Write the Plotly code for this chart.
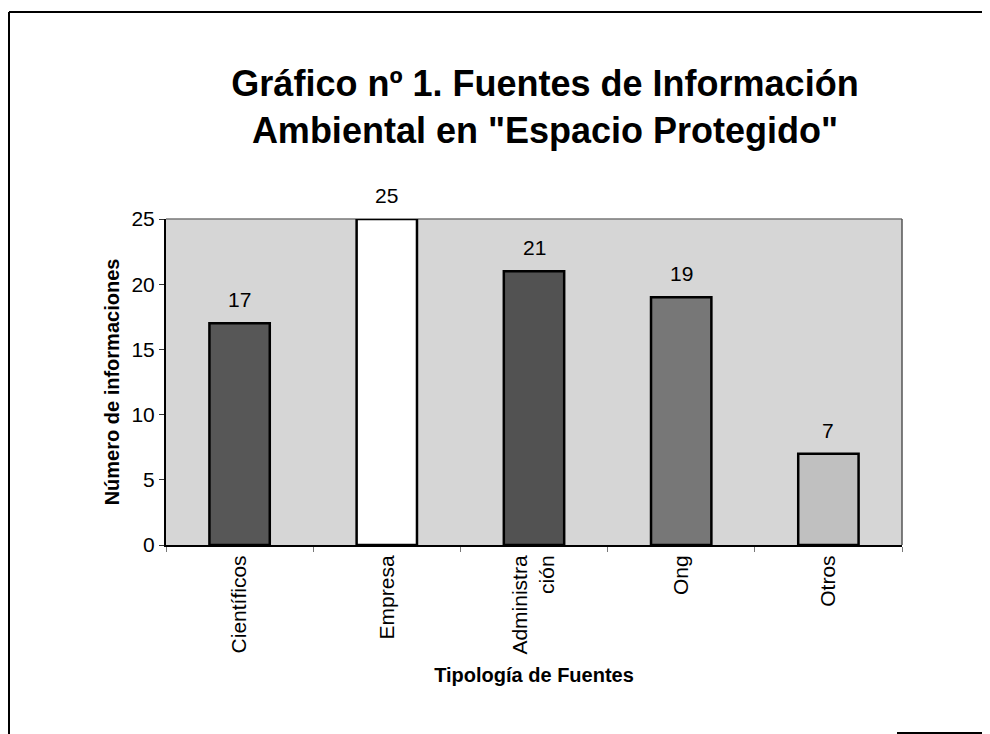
import plotly.graph_objects as go

categories = ["Científicos", "Empresa", "Administra<br>ción", "Ong", "Otros"]
values = [17, 25, 21, 19, 7]
bar_colors = ["#575757", "#ffffff", "#525252", "#777777", "#c0c0c0"]
y_ticks = [0, 5, 10, 15, 20, 25]

FONT = "Liberation Sans, Arial, sans-serif"

fig = go.Figure()
fig.add_trace(go.Bar(
    x=categories, y=values,
    marker=dict(color=bar_colors, line=dict(color="black", width=2.5)),
    width=0.41,
    showlegend=False,
    hoverinfo="y",
))

for c, v in zip(categories, values):
    fig.add_annotation(x=c, y=v, text=str(v), showarrow=False,
                       yanchor="bottom", yshift=10,
                       font=dict(family=FONT, size=21, color="black"))

W, H = 990, 734
L, R, T, B = 158, 96, 211, 197
pw, ph = W - L - R, H - T - B


def px(x):
    return (x - L) / pw


def py(y):
    return (H - B - y) / ph


fig.update_layout(
    width=W, height=H,
    margin=dict(l=L, r=R, t=T, b=B),
    paper_bgcolor="white",
    plot_bgcolor="#d6d6d6",
    font=dict(family=FONT, color="black"),
    title=dict(
        text="<b>Gráfico nº 1. Fuentes de Información<br>Ambiental en \"Espacio Protegido\"</b>",
        x=537 / W, xanchor="center",
        y=1 - 88 / H, yanchor="middle",
        font=dict(family=FONT, size=36, color="black"),
    ),
)

fig.update_xaxes(
    type="category",
    tickangle=-90,
    tickfont=dict(family=FONT, size=21, color="black"),
    ticks="outside", tickson="boundaries", ticklen=5, tickcolor="#777",
    showline=True, linecolor="black", linewidth=2,
    showgrid=False,
    title=dict(text="<b>Tipología de Fuentes</b>", font=dict(family=FONT, size=20), standoff=14),
)
fig.update_yaxes(
    range=[0, 25],
    tickvals=y_ticks,
    tickfont=dict(family=FONT, size=21, color="black"),
    ticks="outside", ticklen=5, tickcolor="#333",
    showline=True, linecolor="black", linewidth=2,
    showgrid=False, zeroline=False,
    title=dict(text="<b>Número de informaciones</b>", font=dict(family=FONT, size=20), standoff=6),
)

# plot area top/right edges
fig.add_shape(type="line", xref="paper", yref="paper", x0=0, x1=1, y0=1, y1=1,
              line=dict(color="#777", width=1.5), layer="below")
fig.add_shape(type="line", xref="paper", yref="paper", x0=1, x1=1, y0=0, y1=1,
              line=dict(color="#555", width=1.5), layer="below")

# outer page frame
fig.add_shape(type="line", xref="paper", yref="paper", x0=px(1), x1=px(1), y0=py(4), y1=py(734),
              line=dict(color="black", width=2))
fig.add_shape(type="line", xref="paper", yref="paper", x0=px(1), x1=px(990), y0=py(4), y1=py(4),
              line=dict(color="black", width=2))
fig.add_shape(type="line", xref="paper", yref="paper", x0=px(889), x1=px(990), y0=py(725), y1=py(725),
              line=dict(color="black", width=2))

fig.write_html("out.html")
